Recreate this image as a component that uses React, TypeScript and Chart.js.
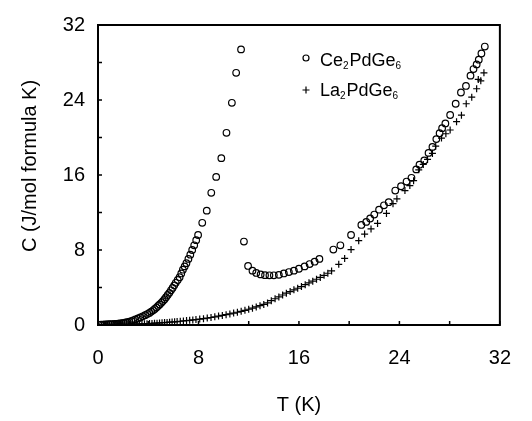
import React, { useEffect, useRef } from "react";
import { Chart, registerables } from "chart.js";
Chart.register(...registerables);

// Ce2PdGe6 specific heat (circles)
const ceT = [0.25, 0.4, 0.55, 0.7, 0.85, 1.0, 1.15, 1.3, 1.45, 1.6, 1.75, 1.9, 2.05, 2.2, 2.35, 2.5, 2.65, 2.8, 2.98, 3.18, 3.37, 3.56, 3.75, 3.92, 4.09, 4.24, 4.39, 4.52, 4.65, 4.78, 4.91, 5.04, 5.17, 5.3, 5.42, 5.55, 5.68, 5.81, 5.94, 6.07, 6.19, 6.35, 6.5, 6.63, 6.76, 6.9, 7.04, 7.2, 7.35, 7.5, 7.66, 7.82, 7.97, 8.3, 8.66, 9.02, 9.41, 9.82, 10.23, 10.66, 11.0, 11.39, 11.62, 11.95, 12.3, 12.6, 12.95, 13.3, 13.65, 14.0, 14.4, 14.8, 15.2, 15.6, 16.0, 16.45, 16.85, 17.25, 17.63, 18.74, 19.3, 20.15, 20.97, 21.36, 21.67, 22.0, 22.38, 22.77, 23.15, 23.67, 24.13, 24.57, 24.96, 25.34, 25.6, 25.98, 26.32, 26.63, 26.94, 27.2, 27.4, 27.66, 28.04, 28.48, 28.9, 29.3, 29.66, 29.9, 30.15, 30.32, 30.53, 30.8];
const ceC = [0.04, 0.05, 0.06, 0.07, 0.08, 0.09, 0.1, 0.11, 0.13, 0.15, 0.17, 0.2, 0.23, 0.27, 0.31, 0.36, 0.42, 0.5, 0.6, 0.7, 0.81, 0.93, 1.05, 1.17, 1.29, 1.43, 1.57, 1.71, 1.86, 2.03, 2.2, 2.37, 2.55, 2.76, 2.97, 3.2, 3.43, 3.7, 3.96, 4.23, 4.5, 4.8, 5.1, 5.5, 5.9, 6.25, 6.6, 7.05, 7.5, 8.0, 8.5, 9.05, 9.6, 10.9, 12.2, 14.1, 15.8, 17.8, 20.5, 23.7, 26.9, 29.4, 8.9, 6.3, 5.8, 5.55, 5.4, 5.32, 5.3, 5.3, 5.35, 5.5, 5.65, 5.8, 6.0, 6.25, 6.5, 6.75, 7.05, 8.05, 8.5, 9.6, 10.67, 11.0, 11.36, 11.78, 12.3, 12.77, 13.1, 14.34, 14.8, 15.3, 15.7, 16.6, 17.1, 17.56, 18.36, 19.0, 19.83, 20.46, 21.0, 21.5, 22.4, 23.6, 24.8, 25.5, 26.6, 27.3, 27.8, 28.3, 28.96, 29.7];

// La2PdGe6 specific heat (crosses)
const laT = [0.3, 0.5, 0.7, 0.9, 1.1, 1.3, 1.5, 1.7, 1.9, 2.1, 2.3, 2.5, 2.7, 2.9, 3.1, 3.3, 3.5, 3.7, 3.9, 4.1, 4.3, 4.5, 4.7, 4.9, 5.1, 5.3, 5.5, 5.7, 5.9, 6.1, 6.3, 6.55, 6.8, 7.05, 7.3, 7.55, 7.8, 8.1, 8.4, 8.7, 9.0, 9.3, 9.6, 9.9, 10.2, 10.5, 10.8, 11.1, 11.4, 11.7, 12.0, 12.3, 12.6, 12.9, 13.2, 13.5, 13.8, 14.1, 14.4, 14.7, 15.0, 15.3, 15.6, 15.9, 16.2, 16.5, 16.8, 17.1, 17.4, 17.7, 18.0, 18.3, 18.6, 19.17, 19.64, 20.15, 20.76, 21.23, 21.74, 22.26, 22.97, 23.49, 23.8, 24.44, 24.83, 25.13, 25.54, 25.9, 26.24, 26.63, 26.89, 27.35, 27.7, 28.04, 28.55, 28.94, 29.32, 29.76, 30.15, 30.28, 30.48, 30.73];
const laC = [0.02, 0.02, 0.03, 0.03, 0.03, 0.04, 0.04, 0.05, 0.05, 0.06, 0.06, 0.07, 0.08, 0.09, 0.1, 0.11, 0.12, 0.13, 0.14, 0.16, 0.17, 0.19, 0.2, 0.22, 0.24, 0.26, 0.28, 0.3, 0.32, 0.34, 0.37, 0.4, 0.43, 0.47, 0.5, 0.54, 0.58, 0.63, 0.68, 0.74, 0.8, 0.87, 0.95, 1.02, 1.1, 1.18, 1.27, 1.36, 1.46, 1.57, 1.68, 1.8, 1.93, 2.06, 2.2, 2.35, 2.6, 2.8, 3.0, 3.2, 3.4, 3.57, 3.75, 3.92, 4.1, 4.3, 4.5, 4.68, 4.88, 5.08, 5.3, 5.52, 5.77, 6.47, 7.1, 8.05, 9.0, 9.7, 10.25, 10.84, 11.9, 12.94, 13.46, 14.34, 14.87, 15.4, 16.55, 17.13, 17.66, 18.3, 19.07, 19.94, 20.4, 20.8, 21.69, 22.38, 23.6, 24.3, 25.2, 26.2, 26.05, 26.9];

const xTickLabels = [0, 8, 16, 24, 32];
const yTickLabels = [0, 8, 16, 24, 32];
const minorTicks = [0, 4, 8, 12, 16, 20, 24, 28, 32];
const seriesNames: [string, boolean][][] = [
  [["Ce", false], ["2", true], ["PdGe", false], ["6", true]],
  [["La", false], ["2", true], ["PdGe", false], ["6", true]],
];
const yTitle = "C (J/mol formula K)";

const FONT = "'Liberation Sans', Arial, Helvetica, sans-serif";

const framePlugin = {
  id: "frameTicks",
  afterDraw(chart: any) {
    const { ctx, chartArea } = chart;
    const xs = chart.scales.x;
    const ys = chart.scales.y;
    ctx.save();
    ctx.strokeStyle = "#000";
    ctx.lineWidth = 2;
    ctx.strokeRect(chartArea.left, chartArea.top, chartArea.right - chartArea.left, chartArea.bottom - chartArea.top);
    ctx.lineWidth = 1.5;
    ctx.beginPath();
    for (const v of minorTicks) {
      const px = xs.getPixelForValue(v);
      ctx.moveTo(px, chartArea.bottom);
      ctx.lineTo(px, chartArea.bottom - 4);
      const py = ys.getPixelForValue(v);
      ctx.moveTo(chartArea.left, py);
      ctx.lineTo(chartArea.left + 4, py);
    }
    ctx.stroke();

    // y-axis title
    ctx.save();
    ctx.translate(30, 166);
    ctx.rotate(-Math.PI / 2);
    ctx.font = `20px ${FONT}`;
    ctx.fillStyle = "#000";
    ctx.textAlign = "center";
    ctx.textBaseline = "middle";
    ctx.fillText(yTitle, 0, 0);
    ctx.restore();

    // legend
    const rows = [
      { y: 60, style: "circle" },
      { y: 90, style: "cross" },
    ];
    rows.forEach((r, i) => {
      const mx = 306;
      ctx.lineWidth = 1.2;
      ctx.beginPath();
      if (r.style === "circle") {
        ctx.arc(mx, r.y - 2, 3, 0, Math.PI * 2);
      } else {
        ctx.moveTo(mx - 3.5, r.y);
        ctx.lineTo(mx + 3.5, r.y);
        ctx.moveTo(mx, r.y - 3.5);
        ctx.lineTo(mx, r.y + 3.5);
      }
      ctx.stroke();
      let x = 320;
      ctx.fillStyle = "#000";
      ctx.textBaseline = "alphabetic";
      ctx.textAlign = "left";
      for (const [txt, sub] of seriesNames[i]) {
        ctx.font = sub ? `10px ${FONT}` : `18px ${FONT}`;
        ctx.fillText(txt, x, sub ? r.y + 9 : r.y + 6);
        x += ctx.measureText(txt).width + (sub ? 1 : 0);
      }
    });
    ctx.restore();
  },
};

export default function App() {
  const ref = useRef<HTMLCanvasElement | null>(null);
  useEffect(() => {
    document.body.style.margin = "0";
    const canvas = ref.current;
    if (!canvas) return;
    const chart = new Chart(canvas, {
      type: "scatter",
      data: {
        datasets: [
          {
            label: "Ce2PdGe6",
            data: ceT.map((t, i) => ({ x: t, y: ceC[i] })),
            pointStyle: "circle",
            pointRadius: 3.3,
            borderColor: "#000",
            backgroundColor: "rgba(0,0,0,0)",
            borderWidth: 1.2,
          },
          {
            label: "La2PdGe6",
            data: laT.map((t, i) => ({ x: t, y: laC[i] })),
            pointStyle: "cross",
            pointRadius: 3.5,
            borderColor: "#000",
            backgroundColor: "#000",
            borderWidth: 1.2,
          },
        ],
      },
      options: {
        responsive: false,
        animation: false,
        layout: { padding: { left: 0, right: 19, top: 20, bottom: 0 } },
        plugins: { legend: { display: false }, tooltip: { enabled: false } },
        scales: {
          x: {
            type: "linear",
            min: 0,
            max: 32,
            afterBuildTicks: (s: any) => {
              s.ticks = xTickLabels.map((v) => ({ value: v }));
            },
            afterFit: (s: any) => {
              s.height = 96;
            },
            grid: { display: false, drawTicks: false, tickLength: 0 },
            border: { display: false },
            ticks: { color: "#000", font: { family: FONT, size: 20 }, padding: 21, maxRotation: 0 },
            title: { display: true, text: "T (K)", color: "#000", font: { family: FONT, size: 20 }, padding: { top: 0, bottom: 4 } },
          },
          y: {
            type: "linear",
            min: 0,
            max: 32,
            afterBuildTicks: (s: any) => {
              s.ticks = yTickLabels.map((v) => ({ value: v }));
            },
            afterFit: (s: any) => {
              s.width = 98;
            },
            grid: { display: false, drawTicks: false, tickLength: 0 },
            border: { display: false },
            ticks: { color: "#000", font: { family: FONT, size: 20 }, padding: 13 },
            title: { display: false },
          },
        },
      },
      plugins: [framePlugin],
    });
    return () => chart.destroy();
  }, []);
  return <canvas ref={ref} width={532} height={421} style={{ display: "block" }} />;
}
